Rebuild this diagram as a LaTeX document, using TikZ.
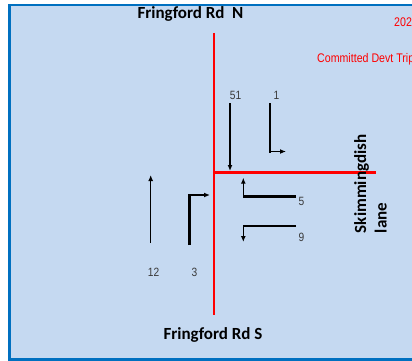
\documentclass[tikz,border=0pt]{standalone}
\usepackage{fontspec}
\usetikzlibrary{arrows.meta}
\newfontfamily\roadfont{Carlito}
\newfontfamily\numfont[FakeStretch=0.85]{Liberation Sans}
\definecolor{panel}{HTML}{C5D9F1}
\definecolor{framecol}{HTML}{0070C0}
\definecolor{numgray}{HTML}{3A3A3A}
\definecolor{roadred}{HTML}{FF0000}
\begin{document}
\begin{tikzpicture}[x=1pt,y=-1pt,
  road/.style={font=\roadfont\bfseries\fontsize{17}{20}\selectfont, inner sep=0pt, text=black},
  num/.style={font=\numfont\fontsize{12}{14}\selectfont, inner sep=0pt, text=numgray},
  redtxt/.style={font=\numfont\fontsize{12.5}{14}\selectfont, inner sep=0pt, text=roadred},
  roadln/.style={roadred, line width=2.6pt},
  thinarr/.style={line width=1.5pt, -{Latex[length=6pt,width=5pt]}},
  thickln/.style={line width=2.7pt}]
\useasboundingbox (0,0) rectangle (412,361);
\clip (0,0) rectangle (412,361);
\fill[white] (0,0) rectangle (412,361);
\draw[framecol, line width=2.8pt, fill=panel] (9.5,5) rectangle (425,359.5);

% roads
\coordinate (nTop) at (214,33);
\coordinate (sBot) at (214,315);
\coordinate (jn) at (214,172.7);
\coordinate (eEnd) at (376,172.7);
\draw[roadln] (nTop) -- (sBot);
\draw[roadln] (jn) -- (eEnd);

% road names
\node[road, anchor=base] (north) at (190.5,18.3) {Fringford Rd~~N};
\node[road, anchor=base] (south) at (213,339) {Fringford Rd S};
\node[road, anchor=base west, rotate=90] (skim) at (366,233.3) {Skimmingdish};
\node[road, anchor=base west, rotate=90] (lane) at (386.7,233.3) {lane};

% red texts
\node[redtxt, anchor=base west] (yr) at (394,27) {202};
\node[redtxt, anchor=base west] (cdt) at (317,63) {Committed Devt Trip};

% numbers
\node[num, anchor=base] (n51) at (235.5,99) {51};
\node[num, anchor=base] (n1) at (276.5,99) {1};
\node[num, anchor=base] (n12) at (153.5,276) {12};
\node[num, anchor=base] (n3) at (194.5,276) {3};
\node[num, anchor=base west] (n5) at (298.5,205) {5};
\node[num, anchor=base west] (n9) at (298.5,241) {9};

% movement 51 (ahead southbound)
\coordinate (a51s) at (230,103);
\coordinate (a51e) at (230,171);
\draw[thinarr, line width=1.8pt] (a51s) -- (a51e);

% movement 1 (left turn from north)
\coordinate (a1s) at (270,103);
\coordinate (a1c) at (270,153);
\coordinate (a1h) at (270,151.5);
\coordinate (a1e) at (286,151.5);
\draw[thickln] (a1s) -- (a1c);
\draw[thinarr] (a1h) -- (a1e);

% movement 5 (from east, turning north)
\coordinate (a5s) at (296,196.5);
\coordinate (a5c) at (243.3,196.5);
\coordinate (a5e) at (243.3,177.7);
\draw[thickln] (a5s) -- (a5c);
\draw[thinarr] (a5c) -- (a5e);

% movement 9 (from east, turning south)
\coordinate (a9s) at (296,226);
\coordinate (a9c) at (243.3,226);
\coordinate (a9e) at (243.3,242);
\draw[line width=1.8pt] (a9s) -- (a9c);
\draw[thinarr] ([yshift=-0.9pt]a9c) -- (a9e);

% movement 12 (ahead northbound)
\coordinate (a12s) at (150.7,243);
\coordinate (a12e) at (150.7,175);
\draw[thinarr] (a12s) -- (a12e);

% movement 3 (right turn from south)
\coordinate (a3s) at (189.3,245);
\coordinate (a3c) at (189.3,194.3);
\coordinate (a3h) at (189.3,195);
\coordinate (a3e) at (210,195);
\draw[thickln] (a3s) -- (a3c);
\draw[thinarr] (a3h) -- (a3e);
\end{tikzpicture}
\end{document}
